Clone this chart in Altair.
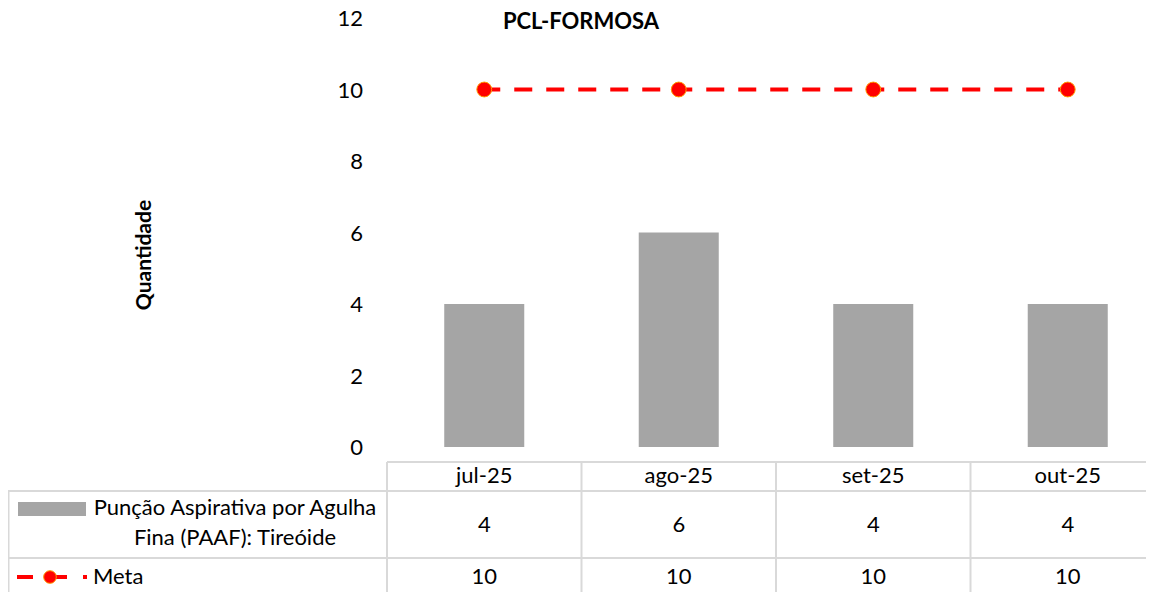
import altair as alt
import pandas as pd

# ---- data ----
categories = ["jul-25", "ago-25", "set-25", "out-25"]
paaf = [4, 6, 4, 4]
meta = [10, 10, 10, 10]
y_ticks = [0, 2, 4, 6, 8, 10, 12]
chart_title = "PCL-FORMOSA"
y_title = "Quantidade"
series1_label = ["Punção Aspirativa por Agulha", "Fina (PAAF): Tireóide"]
series2_label = "Meta"

# ---- layout ----
W, H = 1138, 584
FONT = "Lato"
FS = 22
PX_PER_UNIT = 35.75
COL_W = 194.5
X0_PX = 379 + COL_W / 2  # centre of first category in svg px
xs = alt.Scale(domain=[-X0_PX / COL_W, (W - X0_PX) / COL_W], nice=False, zero=False)
ys = alt.Scale(domain=[-(H - 439) / PX_PER_UNIT, 12 + 10 / PX_PER_UNIT], nice=False, zero=False)

GRAY = "#A5A5A5"
RED = "#FF0000"
LINE = "#D9D9D9"

df = pd.DataFrame({"cat": categories, "idx": list(range(len(categories))), "paaf": paaf, "meta": meta})
one = pd.DataFrame({"a": [0]})
tick_df = pd.DataFrame({"t": y_ticks})

base = alt.Chart(df)
XI = alt.X("idx:Q", scale=xs, axis=None)

bars = base.transform_calculate(
    x0="datum.idx - 0.2057", x1="datum.idx + 0.2057"
).mark_rect(color=GRAY).encode(
    x=alt.X("x0:Q", scale=xs, axis=None),
    x2="x1:Q",
    y=alt.Y("paaf:Q", scale=ys, axis=None),
    y2=alt.datum(0),
)

# y-axis tick labels, positioned by the y scale
ylabels = alt.Chart(tick_df).mark_text(
    font=FONT, fontSize=FS, color="#000000", align="right", baseline="middle", dy=1
).encode(
    x=alt.value(355),
    y=alt.Y("t:Q", scale=ys, axis=None),
    text="t:Q",
)

meta_line = base.mark_line(color=RED, strokeWidth=4, strokeDash=[18, 14], strokeDashOffset=2).encode(
    x=XI, y=alt.Y("meta:Q", scale=ys, axis=None),
)
meta_pts = base.mark_point(
    shape="circle", filled=True, fill=RED, stroke="#FF9900", strokeWidth=1,
    size=220, opacity=1, fillOpacity=1,
).encode(
    x=XI, y=alt.Y("meta:Q", scale=ys, axis=None),
)

# ---- data table ----
vlines = base.transform_calculate(b="datum.idx - 0.5").mark_rule(color=LINE, strokeWidth=2).encode(
    x=alt.X("b:Q", scale=xs, axis=None), y=alt.value(454), y2=alt.value(H)
)
oc = alt.Chart(one)
left_line = oc.mark_rule(color=LINE, strokeWidth=2).encode(x=alt.value(0.5), y=alt.value(483), y2=alt.value(H))
h1 = oc.mark_rule(color=LINE, strokeWidth=2).encode(x=alt.value(379), x2=alt.value(W), y=alt.value(454))
h2 = oc.mark_rule(color=LINE, strokeWidth=2).encode(x=alt.value(0), x2=alt.value(W), y=alt.value(483))
h3 = oc.mark_rule(color=LINE, strokeWidth=2).encode(x=alt.value(0), x2=alt.value(W), y=alt.value(550))

txt = dict(font=FONT, fontSize=FS, color="#000000", baseline="middle", align="center")
hdr = base.mark_text(**txt).encode(x=XI, y=alt.value(468), text="cat:N")
row1 = base.mark_text(**txt).encode(x=XI, y=alt.value(517), text="paaf:Q")
row2 = base.mark_text(**txt).encode(x=XI, y=alt.value(569), text="meta:Q")

swatch = oc.mark_rect(color=GRAY).encode(x=alt.value(10), x2=alt.value(78), y=alt.value(494), y2=alt.value(508))
lab1a = oc.mark_text(**txt).encode(x=alt.value(227), y=alt.value(500), text=alt.value(series1_label[0]))
lab1b = oc.mark_text(**txt).encode(x=alt.value(227), y=alt.value(530), text=alt.value(series1_label[1]))
leg_line = oc.mark_rule(color=RED, strokeWidth=4, strokeDash=[16, 12, 22, 16, 4, 100]).encode(
    x=alt.value(9), x2=alt.value(80), y=alt.value(569)
)
leg_pt = oc.mark_point(shape="circle", filled=True, fill=RED, stroke="#FF9900", strokeWidth=1,
                       size=160, opacity=1).encode(x=alt.value(42), y=alt.value(569))
lab2 = oc.mark_text(font=FONT, fontSize=FS, color="#000000", baseline="middle", align="left").encode(
    x=alt.value(85), y=alt.value(569), text=alt.value(series2_label)
)

title = oc.mark_text(font=FONT, fontSize=22, fontWeight="bold", color="#000000", baseline="top", align="center").encode(
    x=alt.value(573), y=alt.value(4), text=alt.value(chart_title)
)
ytitle = oc.mark_text(font=FONT, fontSize=21, fontWeight="bold", color="#000000", baseline="middle",
                      align="center", angle=270).encode(
    x=alt.value(137), y=alt.value(247), text=alt.value(y_title)
)

chart = alt.layer(
    vlines, left_line, h1, h2, h3,
    bars, meta_line, meta_pts, ylabels,
    hdr, row1, row2, swatch, lab1a, lab1b, leg_line, leg_pt, lab2,
    title, ytitle,
).properties(
    width=W, height=H, padding=0,
    autosize=alt.AutoSizeParams(type="none"),
).configure_view(strokeWidth=0)

chart.save("out.html", embed_options={"renderer": "svg", "actions": False})
